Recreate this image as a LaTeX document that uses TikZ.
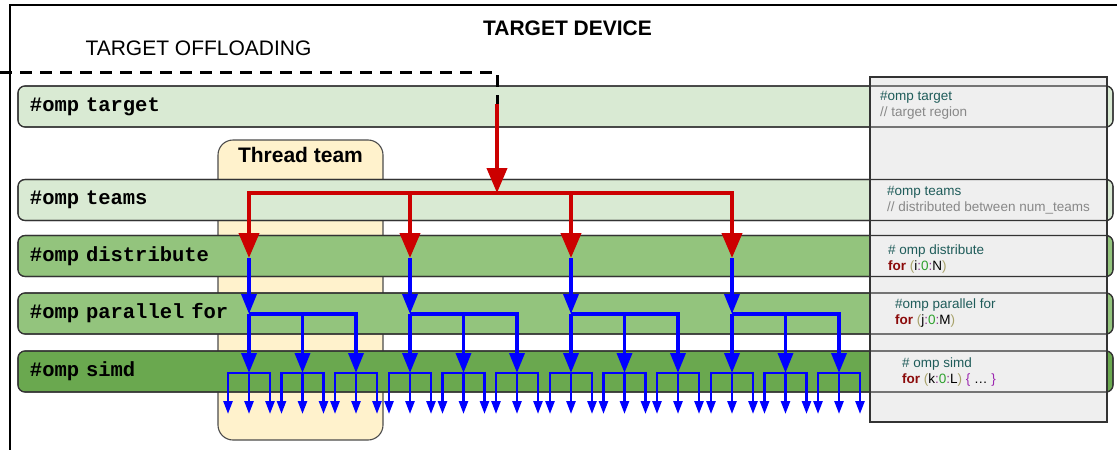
\documentclass[tikz,border=0pt]{standalone}
\usepackage{fontspec}
\setmainfont{Liberation Sans}
\setmonofont{Liberation Mono}
\usetikzlibrary{arrows.meta,positioning}

\definecolor{rowlight}{HTML}{D9EAD3}
\definecolor{rowmid}{HTML}{93C47D}
\definecolor{rowdark}{HTML}{6AA84F}
\definecolor{teamfill}{HTML}{FFF2CC}
\definecolor{panelfill}{HTML}{EFEFEF}
\definecolor{redarr}{HTML}{CC0000}
\definecolor{bluearr}{HTML}{0000FF}
\definecolor{prag}{HTML}{1F5C5A}
\definecolor{cmt}{HTML}{888888}
\definecolor{kw}{HTML}{8B0A0A}
\definecolor{paren}{HTML}{A8A26A}
\definecolor{colon}{HTML}{8E3B8E}
\definecolor{num}{HTML}{2DA02D}
\definecolor{brace}{HTML}{9C27B0}

\tikzset{
  row/.style={draw=black!80, line width=1.1pt, rounded corners=7pt, outer sep=0pt,
    anchor=west, minimum height=41pt, text width=1071pt, inner xsep=12pt, align=left,
    font=\ttfamily\bfseries\fontsize{20.5}{21}\selectfont},
  rowline/.style={draw=black!80, line width=1.1pt, rounded corners=7pt},
  team/.style={draw=black!70, line width=1.1pt, fill=teamfill, rounded corners=15pt,
    minimum width=165pt, minimum height=300pt},
  panel/.style={draw=black!80, line width=1.1pt, fill=panelfill,
    minimum width=237pt, minimum height=345pt},
  note/.style={anchor=west, inner sep=0pt, align=left, font=\fontsize{13.5}{16}\selectfont},
  offl/.style={line width=3pt, dash pattern=on 12pt off 8pt},
  redline/.style={draw=redarr, line width=4pt, -{Triangle[width=20pt,length=25pt]}},
  blueline/.style={draw=bluearr, line width=3.5pt, -{Triangle[width=15pt,length=20pt]}},
  leafline/.style={draw=bluearr, line width=2.5pt, -{Triangle[width=9pt,length=13pt]}}
}

\begin{document}
\begin{tikzpicture}[x=1pt,y=-1pt]
\useasboundingbox (0,0) rectangle (1117,450);
\draw[line width=2pt] (10,450) -- (10,5) -- (1117,5);
\node[font=\bfseries\fontsize{21}{22}\selectfont] (dev) at (567.5,28) {TARGET DEVICE};
\node[font=\fontsize{21}{22}\selectfont] (off) at (198.5,48) {TARGET OFFLOADING};

\node[team] (team) at (300.5,290) {};
\node[font=\bfseries\fontsize{21}{22}\selectfont, below=4pt of team.north] (teamtxt) {Thread team};

% directive rows
\node[row, fill=rowlight] (tgt) at (18,106.5) {\#omp target};
\node[row, fill=rowlight] (tms) at (18,200) {\#omp teams};
\node[row, fill=rowmid] (dst) at (18,256) {\#omp distribute};
\node[row, fill=rowmid] (par) at (18,313.5) {\#omp parallel for};
\node[row, fill=rowdark] (smd) at (18,371.5) {\#omp simd};

% code panel
\node[panel] (pnl) at (988.5,249.5) {};
\foreach \r in {tgt,tms,dst,par,smd}
  \draw[rowline] (\r.north west) rectangle (\r.south east);

\node[note] (ntgt) at (880,105) {\color{prag}\#omp target\\\color{cmt}// target region};
\node[note] (ntms) at (887,200) {\color{prag}\#omp teams\\\color{cmt}// distributed between num\_teams};
\node[note] (ndst) at (888,259) {\color{prag}\# omp distribute\\{\color{kw}\bfseries for} {\color{paren}(}i{\color{colon}:}{\color{num}0}{\color{colon}:}N{\color{paren})}};
\node[note] (npar) at (895,313.5) {\color{prag}\#omp parallel for\\{\color{kw}\bfseries for} {\color{paren}(}j{\color{colon}:}{\color{num}0}{\color{colon}:}M{\color{paren})}};
\node[note] (nsmd) at (902,372) {\color{prag}\# omp simd\\{\color{kw}\bfseries for} {\color{paren}(}k{\color{colon}:}{\color{num}0}{\color{colon}:}L{\color{paren})} {\color{brace}\{} … {\color{brace}\}}};

% offloading and teams
\coordinate (o0) at (0,72);
\coordinate (o1) at (497,72);
\coordinate (o2) at (497,104);
\coordinate (hub) at (497,193);
\draw[offl] (o0) -- (o1) -- (o2);
\draw[redline] (o2) -- (hub);

\foreach \i in {1,...,4} {
  \pgfmathsetmacro\gx{249+161*(\i-1)}
  \coordinate (d\i) at (\gx,258);
  \coordinate (p\i) at (\gx,314);
  \draw[blueline] (d\i) -- (p\i);
  \draw[redline] (hub) -| (d\i);
  \foreach \j in {1,2,3} {
    \pgfmathsetmacro\sx{\gx+53.5*(\j-1)}
    \coordinate (s\i\j) at (\sx,373);
    \foreach \k in {-1,0,1} {
      \coordinate (l\i\j\k) at (\sx+21*\k,414);
      \draw[leafline] (s\i\j) -| (l\i\j\k);
    }
    \draw[blueline] (p\i) -| (s\i\j);
  }
}
\end{tikzpicture}
\end{document}
